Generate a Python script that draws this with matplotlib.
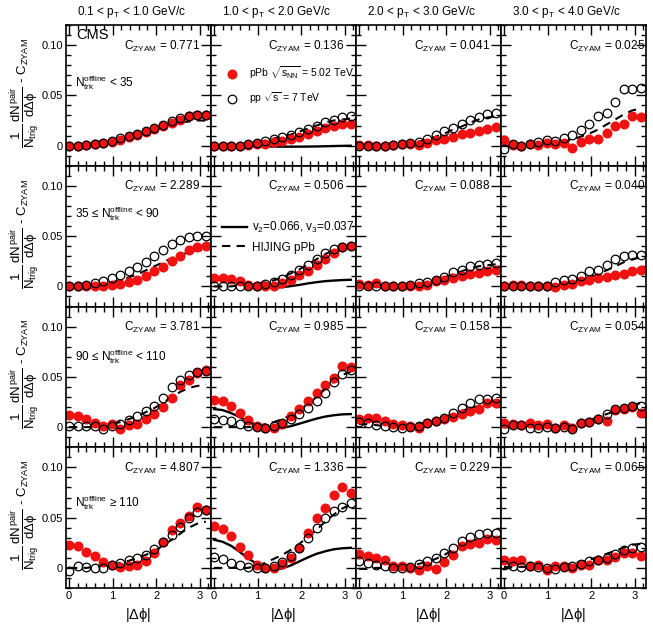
import numpy as np
import matplotlib
matplotlib.use('Agg')
import matplotlib.pyplot as plt
from matplotlib.ticker import FixedLocator, MultipleLocator

plt.rcParams['font.family'] = ['Liberation Sans', 'DejaVu Sans']
plt.rcParams['mathtext.fontset'] = 'custom'
plt.rcParams['mathtext.rm'] = 'Liberation Sans'
plt.rcParams['mathtext.it'] = 'Liberation Sans'
plt.rcParams['mathtext.bf'] = 'Liberation Sans:bold'

# bin centres in |dphi|
dphi = [0.0, 0.196, 0.393, 0.589, 0.785, 0.982, 1.178, 1.374, 1.571,
        1.767, 1.963, 2.160, 2.356, 2.553, 2.749, 2.945, 3.142]

pt_bins = ['0.1 < p$_{\\rm T}$ < 1.0 GeV/c', '1.0 < p$_{\\rm T}$ < 2.0 GeV/c',
           '2.0 < p$_{\\rm T}$ < 3.0 GeV/c', '3.0 < p$_{\\rm T}$ < 4.0 GeV/c']
mult_bins = ['N$_{\\rm trk}^{\\rm offline}$ < 35',
             '35 \u2264 N$_{\\rm trk}^{\\rm offline}$ < 90',
             '90 \u2264 N$_{\\rm trk}^{\\rm offline}$ < 110',
             'N$_{\\rm trk}^{\\rm offline}$ \u2265 110']
czyam = [['0.771', '0.136', '0.041', '0.025'],
         ['2.289', '0.506', '0.088', '0.040'],
         ['3.781', '0.985', '0.158', '0.054'],
         ['4.807', '1.336', '0.229', '0.065']]

# pPb 5.02 TeV (rows = multiplicity, inner lists = pT bins)
ppb = [
    [[0, 0, 0.0005, 0.0015, 0.003, 0.004, 0.006, 0.009, 0.011, 0.014, 0.017, 0.020, 0.023, 0.026, 0.029, 0.030, 0.030],
     [0, 0, 0, 0, 0.0005, 0.002, 0.002, 0.004, 0.005, 0.007, 0.009, 0.012, 0.015, 0.018, 0.020, 0.022, 0.022],
     [0.0005, 0.0005, 0, 0, 0.0005, 0.0015, 0.0015, 0.001, 0.003, 0.0055, 0.007, 0.009, 0.0115, 0.013, 0.015, 0.0165, 0.019],
     [0.006, 0.001, 0, 0.002, 0.001, 0.003, 0.002, 0.003, -0.002, 0.004, 0.007, 0.007, 0.013, 0.020, 0.022, 0.029, 0.028]],
    [[0, 0.0007, 0.0007, 0, 0, 0.0017, 0.0027, 0.004, 0.0066, 0.010, 0.015, 0.019, 0.025, 0.030, 0.036, 0.039, 0.040],
     [0.0083, 0.0083, 0.0073, 0.005, 0.0017, 0, 0, 0.0007, 0.0033, 0.006, 0.0115, 0.015, 0.021, 0.027, 0.033, 0.039, 0.040],
     [0.0023, 0.0017, 0.0033, 0.0007, 0.0007, 0, 0, 0.0007, 0.0017, 0.005, 0.006, 0.0083, 0.010, 0.0126, 0.0133, 0.015, 0.0166],
     [0.0007, 0.0017, 0.0017, 0.0007, 0.0007, 0, -0.0007, 0.0017, 0.0027, 0.005, 0.0066, 0.0083, 0.0093, 0.0116, 0.0126, 0.015, 0.0166]],
    [[0.0116, 0.011, 0.0083, 0.0043, 0.001, 0.0027, -0.0023, 0.0017, 0.0027, 0.0083, 0.0126, 0.020, 0.029, 0.042, 0.047, 0.054, 0.057],
     [0.027, 0.026, 0.021, 0.014, 0.007, 0.001, -0.001, -0.0005, 0.003, 0.011, 0.018, 0.026, 0.034, 0.042, 0.049, 0.061, 0.060],
     [0.008, 0.009, 0.009, 0.006, 0.003, 0.002, 0.001, -0.0005, 0.004, 0.006, 0.008, 0.010, 0.013, 0.016, 0.018, 0.024, 0.024],
     [0.004, 0.003, 0.002, 0.004, 0.002, 0.003, -0.001, 0.002, -0.001, 0.004, 0.005, 0.008, 0.006, 0.017, 0.018, 0.020, 0.014]],
    [[0.023, 0.022, 0.016, 0.012, 0.006, 0.003, 0.001, 0.002, 0.003, 0.007, 0.015, 0.026, 0.038, 0.045, 0.052, 0.061, 0.058],
     [0.042, 0.039, 0.032, 0.021, 0.013, 0.003, 0, 0, 0.004, 0.010, 0.020, 0.035, 0.050, 0.060, 0.073, 0.080, 0.074],
     [0.0143, 0.0117, 0.010, 0.0083, 0.0023, 0.0023, 0, -0.0017, 0.0023, -0.001, 0.006, 0.0133, 0.0217, 0.0233, 0.025, 0.0283, 0.0277],
     [0.0077, 0.0067, 0.0083, 0.0023, 0.0033, -0.0017, 0.0017, 0.0023, 0, 0.0033, 0.0033, 0.0083, 0.0083, 0.011, 0.015, 0.015, 0.0123]],
]

# pp 7 TeV
pp = [
    [[0, 0, 0.0005, 0.002, 0.003, 0.005, 0.008, 0.010, 0.012, 0.015, 0.018, 0.021, 0.025, 0.027, 0.029, 0.030, 0.030],
     [0, 0, 0, 0, 0.0015, 0.003, 0.005, 0.007, 0.009, 0.011, 0.014, 0.017, 0.020, 0.024, 0.026, 0.028, 0.029],
     [0, 0, 0, 0, 0.0005, 0.0015, 0.003, 0.004, 0.007, 0.011, 0.015, 0.018, 0.022, 0.026, 0.028, 0.031, 0.032],
     [-0.003, 0.002, 0, 0.002, 0.004, 0.006, 0.005, 0.008, 0.011, 0.016, 0.022, 0.029, 0.032, 0.043, 0.056, 0.056, 0.057]],
    [[0, 0.0005, 0.001, 0.003, 0.005, 0.008, 0.011, 0.015, 0.019, 0.024, 0.030, 0.036, 0.042, 0.046, 0.049, 0.050, 0.050],
     [0, 0, 0, 0, 0, 0, 0.002, 0.004, 0.007, 0.011, 0.016, 0.021, 0.027, 0.033, 0.037, 0.039, 0.040],
     [0, 0, 0, 0, 0, 0.0007, 0.0017, 0.0033, 0.004, 0.0066, 0.0093, 0.014, 0.0166, 0.020, 0.0215, 0.0225, 0.023],
     [0, 0.0007, 0, 0.0007, 0, 0.0007, 0.004, 0.006, 0.0073, 0.0106, 0.015, 0.016, 0.0215, 0.027, 0.030, 0.0315, 0.0315]],
    [[0.001, 0.001, 0.001, 0.0015, -0.0015, 0.001, 0.0035, 0.007, 0.0115, 0.016, 0.0215, 0.029, 0.040, 0.047, 0.052, 0.055, 0.056],
     [0.008, 0.0075, 0.006, 0.0035, 0.0015, 0, -0.0005, 0.001, 0.004, 0.008, 0.013, 0.019, 0.026, 0.034, 0.045, 0.053, 0.057],
     [0.005, 0.004, 0.002, 0.001, 0, -0.0005, 0, 0.0015, 0.004, 0.006, 0.009, 0.014, 0.019, 0.024, 0.028, 0.028, 0.029],
     [-0.002, 0.002, 0.002, -0.001, -0.001, 0, -0.001, 0, -0.002, 0.004, 0.005, 0.008, 0.013, 0.018, 0.019, 0.021, 0.021]],
    [[-0.003, 0.002, 0.001, 0, 0, 0.003, 0.005, 0.008, 0.010, 0.013, 0.019, 0.026, 0.033, 0.041, 0.050, 0.056, 0.058],
     [0.011, 0.009, 0.005, 0.003, 0.001, 0, 0, 0.002, 0.006, 0.012, 0.020, 0.030, 0.040, 0.050, 0.057, 0.061, 0.065],
     [0.0067, 0.005, 0.0033, 0.0023, 0, 0, 0.001, 0.0043, 0.0067, 0.010, 0.015, 0.020, 0.0267, 0.031, 0.0333, 0.035, 0.035],
     [0.003, 0.002, 0.001, 0.002, 0.001, 0, -0.001, 0.001, 0.002, 0.004, 0.007, 0.008, 0.010, 0.014, 0.018, 0.020, 0.021]],
]

# HIJING pPb (dashed)
hijing = [
    [[0, 0, 0, 0.001, 0.002, 0.004, 0.006, 0.008, 0.011, 0.013, 0.016, 0.018, 0.021, 0.023, 0.024, 0.025, 0.025],
     [0, 0, 0, 0.001, 0.002, 0.003, 0.005, 0.007, 0.009, 0.011, 0.014, 0.017, 0.020, 0.023, 0.025, 0.026, 0.027],
     [0, 0, 0, 0, 0.001, 0.002, 0.003, 0.004, 0.006, 0.009, 0.012, 0.016, 0.019, 0.023, 0.026, 0.028, 0.029],
     [0, 0, 0, 0, 0.001, 0.002, 0.003, 0.004, 0.006, 0.009, 0.012, 0.016, 0.021, 0.026, 0.031, 0.035, 0.037]],
    [[0, 0, 0, 0.001, 0.002, 0.004, 0.006, 0.009, 0.012, 0.016, 0.020, 0.024, 0.028, 0.031, 0.034, 0.036, 0.036],
     [0, 0, 0, 0.001, 0.002, 0.003, 0.004, 0.006, 0.009, 0.013, 0.017, 0.022, 0.027, 0.032, 0.036, 0.039, 0.040],
     [0, 0, 0, 0, 0, 0.001, 0.002, 0.003, 0.004, 0.006, 0.009, 0.012, 0.015, 0.018, 0.020, 0.021, 0.022],
     [0, 0, 0, 0, 0, 0.001, 0.002, 0.003, 0.004, 0.006, 0.009, 0.012, 0.016, 0.020, 0.024, 0.027, 0.029]],
    [[0, 0, 0, 0, 0.001, 0.003, 0.005, 0.008, 0.011, 0.015, 0.019, 0.024, 0.030, 0.035, 0.039, 0.041, 0.042],
     [0, 0, 0, 0, 0, 0.001, 0.003, 0.005, 0.008, 0.012, 0.017, 0.023, 0.030, 0.038, 0.045, 0.052, 0.055],
     [0.003, 0.003, 0.002, 0.001, 0.001, 0.001, 0.002, 0.003, 0.005, 0.007, 0.010, 0.013, 0.016, 0.019, 0.021, 0.022, 0.023],
     [0, 0, 0, 0, 0, 0.001, 0.001, 0.002, 0.003, 0.005, 0.007, 0.010, 0.013, 0.016, 0.019, 0.022, 0.024]],
    [[0, 0, 0, 0.001, 0.002, 0.003, 0.005, 0.007, 0.010, 0.013, 0.017, 0.022, 0.028, 0.034, 0.040, 0.044, 0.046],
     [0, 0, 0, 0, 0, 0.002, 0.005, 0.009, 0.013, 0.018, 0.024, 0.031, 0.038, 0.046, 0.053, 0.059, 0.063],
     [-0.001, -0.001, 0, 0, 0, 0.001, 0.002, 0.004, 0.006, 0.009, 0.013, 0.018, 0.022, 0.026, 0.029, 0.031, 0.032],
     [0.001, 0.001, 0.001, 0.001, 0.001, 0.001, 0.002, 0.003, 0.004, 0.006, 0.008, 0.011, 0.014, 0.017, 0.020, 0.023, 0.024]],
]

# v2=0.066, v3=0.037 curve, only in the 1-2 GeV/c column
flow = [
    [0, 0, 0, 0, -0.0002, -0.0005, -0.0007, -0.0009, -0.001, -0.001, -0.001, -0.0009, -0.0008, -0.0006, -0.0004, -0.0002, -0.0001],
    [0.008, 0.0075, 0.006, 0.004, 0.002, 0.0003, -0.0008, -0.0012, -0.0008, 0.0003, 0.0015, 0.003, 0.0042, 0.0052, 0.0058, 0.0063, 0.0066],
    [0.018, 0.017, 0.014, 0.010, 0.006, 0.002, -0.0005, -0.0015, -0.0008, 0.001, 0.0035, 0.006, 0.0085, 0.0105, 0.0118, 0.0127, 0.013],
    [0.028, 0.026, 0.022, 0.016, 0.0095, 0.004, 0.0005, -0.0015, -0.0005, 0.0025, 0.0065, 0.0105, 0.014, 0.0165, 0.0185, 0.0195, 0.020],
]

W, H = 653, 626
fig, axes = plt.subplots(4, 4, figsize=(W / 100, H / 100), dpi=100, sharex=True, sharey=True,
                         gridspec_kw=dict(left=65.5 / W, right=645.5 / W, top=1 - 25 / H,
                                          bottom=1 - 588 / H, hspace=0, wspace=0))

ylab = (r'$\dfrac{1}{N_{\rm trig}}\,\dfrac{dN^{\rm pair}}{d\Delta\phi}$ - C$_{\rm ZYAM}$')
czyam_x = [0.925, 0.925, 0.925, 1.0]

for r in range(4):
    for c in range(4):
        ax = axes[r, c]
        if c == 1:
            ax.plot(dphi, flow[r], color='k', lw=1.7, label='v$_2$=0.066, v$_3$=0.037')
        ax.plot(dphi, hijing[r][c], color='k', lw=1.5, ls=(0, (4, 3)), label='HIJING pPb')
        ax.plot(dphi, ppb[r][c], 'o', color='#f21010', ms=6.2, mec='#f21010',
                label='pPb $\\sqrt{s_{\\rm NN}}$ = 5.02 TeV')
        ax.plot(dphi, pp[r][c], 'o', mfc='none', mec='k', mew=0.9, ms=6.2,
                label='pp $\\sqrt{s}$ = 7 TeV')

        ax.set_xlim(-0.08, 3.25)
        ax.set_ylim(-0.02, 0.12)
        ax.yaxis.set_major_locator(FixedLocator([0, 0.05, 0.10]))
        ax.yaxis.set_minor_locator(MultipleLocator(0.01))
        ax.xaxis.set_major_locator(FixedLocator([0, 1, 2, 3]))
        ax.xaxis.set_minor_locator(MultipleLocator(0.2))
        ax.tick_params(which='both', direction='in', top=True, right=True, width=1,
                       labelsize=8, pad=2)
        ax.tick_params(which='major', length=7)
        ax.tick_params(which='minor', length=3.5)
        for s in ax.spines.values():
            s.set_linewidth(1.2)

        ax.text(czyam_x[c], 0.85, 'C$_{\\rm ZYAM}$ = ' + czyam[r][c], transform=ax.transAxes,
                ha='right', va='center', fontsize=8.5)

    axes[r, 0].set_yticklabels(['0', '0.05', '0.10'])
    axes[r, 0].text(0.065, [0.593, 0.657, 0.643, 0.607][r], mult_bins[r],
                    transform=axes[r, 0].transAxes, ha='left', va='center', fontsize=8.5)
    yc = 1 - (25 + 140.75 * r + 68) / H
    fig.text(24 / W, yc, ylab, rotation=90, ha='center', va='center', fontsize=9.5)

axes[0, 0].text(0.071, 0.93, 'CMS', transform=axes[0, 0].transAxes, ha='left', va='center',
                fontsize=10.5)

# legends
h = axes[0, 1].get_lines()
axes[0, 1].legend(handles=[h[2], h[3]], loc='upper left', bbox_to_anchor=(0.115, 0.72),
                  frameon=False, fontsize=7.5, handlelength=1.0, handletextpad=1.1,
                  labelspacing=0.9, borderpad=0, borderaxespad=0)
h = axes[1, 1].get_lines()
axes[1, 1].legend(handles=[h[0], h[1]], loc='upper left', bbox_to_anchor=(0.08, 0.615),
                  frameon=False, fontsize=8.5, handlelength=2.1, handletextpad=0.4,
                  labelspacing=0.55, borderpad=0, borderaxespad=0)

for c in range(4):
    x0 = (65.5 + 145 * c + 72.5 - 6) / W
    fig.text(x0, 1 - 12 / H, pt_bins[c], ha='center', va='center', fontsize=8.5)
    fig.text((65.5 + 145 * c + 72.5) / W, 1 - 615 / H, r'|$\Delta\phi$|', ha='center',
             va='center', fontsize=10.5)

fig.savefig('out.png', dpi=100)
